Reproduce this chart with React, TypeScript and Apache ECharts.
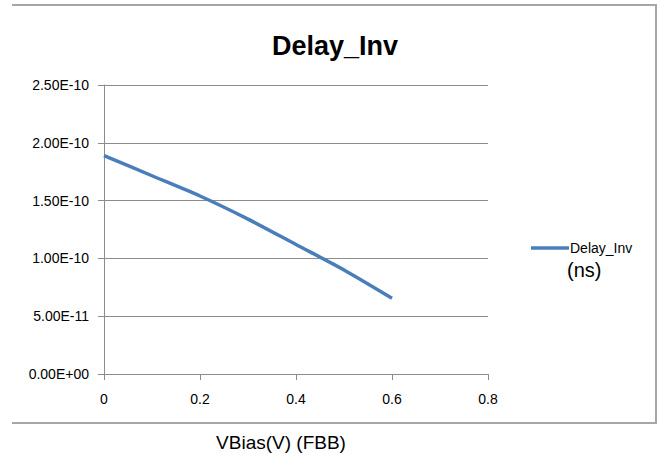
import React, { useEffect, useRef } from "react";
import * as echarts from "echarts";

const chartTitle = "Delay_Inv";
const seriesName = "Delay_Inv";
const unitLabel = "(ns)";
const xAxisTitle = "VBias(V) (FBB)";
const vbias = [0, 0.1, 0.2, 0.3, 0.4, 0.5, 0.6];
const delay = [1.89e-10, 1.715e-10, 1.54e-10, 1.34e-10, 1.12e-10, 9.0e-11, 6.55e-11];

const FONT = "'Liberation Sans', Arial, sans-serif";

function sci(v: number): string {
  if (v === 0) return "0.00E+00";
  const [m, e] = v.toExponential(2).split("e");
  const n = parseInt(e, 10);
  const sign = n < 0 ? "-" : "+";
  const abs = Math.abs(n);
  return `${m}E${sign}${abs < 10 ? "0" + abs : abs}`;
}

export default function App() {
  const ref = useRef<HTMLDivElement>(null);
  useEffect(() => {
    if (!ref.current) return;
    const chart = echarts.init(ref.current, null, { renderer: "svg" });
    const data = vbias.map((x, i) => [x, delay[i]]);
    chart.setOption({
      animation: false,
      backgroundColor: "#ffffff",
      grid: { left: 104, right: 172, top: 85, bottom: 81, containLabel: false },
      xAxis: {
        type: "value",
        min: 0,
        max: 0.8,
        interval: 0.2,
        axisLine: { show: true, onZero: false, lineStyle: { color: "#8c8c8c", width: 1 } },
        axisTick: { show: true, length: 6, lineStyle: { color: "#8c8c8c" } },
        splitLine: { show: false },
        axisLabel: {
          margin: 18,
          color: "#000",
          fontFamily: FONT,
          fontSize: 14,
          formatter: (v: number) => String(+v.toFixed(1)),
        },
      },
      yAxis: {
        type: "value",
        min: 0,
        max: 2.5e-10,
        interval: 5e-11,
        axisLine: { show: true, lineStyle: { color: "#8c8c8c", width: 1 } },
        axisTick: { show: true, length: 6, lineStyle: { color: "#8c8c8c" } },
        splitLine: { show: true, lineStyle: { color: "#8c8c8c", width: 1 } },
        axisLabel: {
          margin: 15,
          color: "#000",
          fontFamily: FONT,
          fontSize: 14,
          formatter: (v: number) => sci(v),
        },
      },
      legend: {
        show: true,
        left: 526,
        top: 236,
        orient: "vertical",
        icon: "rect",
        itemWidth: 38,
        itemHeight: 3.5,
        itemGap: 2,
        textStyle: { color: "#000", fontFamily: FONT, fontSize: 14, padding: [0, 0, 0, -4] },
        data: [seriesName],
      },
      series: [
        {
          name: seriesName,
          type: "line",
          data,
          smooth: 0.25,
          showSymbol: false,
          lineStyle: { color: "#4a7ebb", width: 3.5 },
          itemStyle: { color: "#4a7ebb" },
        },
      ],
      graphic: [
        {
          type: "polyline",
          shape: { points: [[12, 5], [656, 5], [656, 423], [12, 423]] },
          style: { stroke: "#a6a6a6", lineWidth: 2, fill: null },
          silent: true,
        },
        {
          type: "text",
          x: 335,
          y: 46,
          style: {
            text: chartTitle,
            fontFamily: FONT,
            fontSize: 27,
            fontWeight: "bold",
            fill: "#000",
            textAlign: "center",
            textVerticalAlign: "middle",
          },
        },
        {
          type: "text",
          x: 567,
          y: 270,
          style: {
            text: unitLabel,
            fontFamily: FONT,
            fontSize: 20,
            fill: "#000",
            textAlign: "left",
            textVerticalAlign: "middle",
          },
        },
        {
          type: "text",
          x: 281,
          y: 442,
          style: {
            text: xAxisTitle,
            fontFamily: FONT,
            fontSize: 19,
            fill: "#000",
            textAlign: "center",
            textVerticalAlign: "middle",
          },
        },
      ],
    });
    return () => chart.dispose();
  }, []);
  return <div ref={ref} style={{ width: 660, height: 455, position: "absolute", left: 0, top: 0 }} />;
}
